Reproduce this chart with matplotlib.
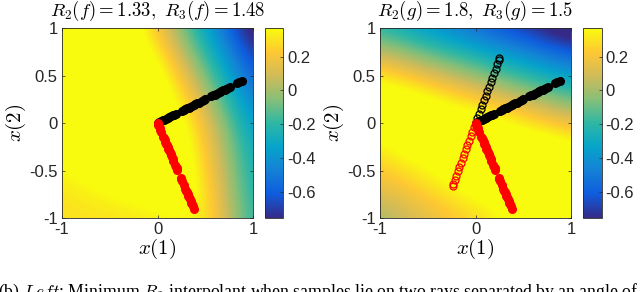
import numpy as np
import matplotlib
matplotlib.use("Agg")
import matplotlib.pyplot as plt
from matplotlib.colors import LinearSegmentedColormap

plt.rcParams['font.family'] = ['Liberation Sans', 'DejaVu Sans']
plt.rcParams['mathtext.fontset'] = 'cm'
plt.rcParams['axes.unicode_minus'] = False

# grid where the two fields were read (x across, y from top to bottom)
grid_x = [-1, -0.75, -0.5, -0.25, 0, 0.25, 0.5, 0.75, 1]
grid_y = [1, 0.75, 0.5, 0.25, 0, -0.25, -0.5, -0.75, -1]

# left panel, minimum R2 interpolant f
f_vals = [
    [0.50, 0.50, 0.50, 0.46, 0.20, -0.06, -0.33, -0.59, -0.85],
    [0.50, 0.50, 0.50, 0.50, 0.33, 0.06, -0.20, -0.46, -0.72],
    [0.50, 0.50, 0.50, 0.50, 0.45, 0.19, -0.07, -0.34, -0.60],
    [0.50, 0.50, 0.50, 0.50, 0.50, 0.32, 0.05, -0.21, -0.47],
    [0.50, 0.50, 0.50, 0.50, 0.50, 0.42, 0.16, -0.10, -0.37],
    [0.50, 0.50, 0.50, 0.50, 0.50, 0.48, 0.22, -0.04, -0.30],
    [0.35, 0.40, 0.50, 0.50, 0.50, 0.50, 0.26, 0.00, -0.26],
    [0.31, 0.33, 0.36, 0.40, 0.45, 0.50, 0.30, 0.03, -0.23],
    [0.29, 0.30, 0.30, 0.31, 0.33, 0.34, 0.33, 0.06, -0.20],
]

# right panel, interpolant g
g_vals = [
    [-0.22, -0.30, -0.39, -0.47, -0.56, -0.64, -0.72, -0.81, -0.89],
    [0.04, -0.04, -0.13, -0.21, -0.29, -0.38, -0.46, -0.55, -0.63],
    [0.31, 0.22, 0.14, 0.05, -0.03, -0.12, -0.20, -0.28, -0.37],
    [0.50, 0.48, 0.40, 0.32, 0.23, 0.15, 0.06, -0.02, -0.10],
    [0.45, 0.50, 0.50, 0.50, 0.49, 0.41, 0.33, 0.24, 0.16],
    [0.34, 0.41, 0.48, 0.50, 0.50, 0.50, 0.50, 0.50, 0.42],
    [0.23, 0.29, 0.36, 0.43, 0.50, 0.50, 0.50, 0.50, 0.50],
    [0.12, 0.18, 0.25, 0.32, 0.39, 0.45, 0.50, 0.50, 0.50],
    [0.00, 0.07, 0.14, 0.21, 0.27, 0.34, 0.41, 0.47, 0.50],
]
clim = (-0.757, 0.37)

# sample rays: end points and positions along them (fraction of length)
black_end = (0.88, 0.44)
black_t = [0.0, 0.02, 0.04, 0.06, 0.08, 0.10, 0.12, 0.14, 0.16, 0.18, 0.20, 0.22,
           0.29, 0.31, 0.33, 0.35, 0.37, 0.39, 0.41, 0.43, 0.45, 0.47, 0.49,
           0.53, 0.55, 0.57, 0.64, 0.66, 0.68, 0.70, 0.72, 0.74, 0.76, 0.78,
           0.80, 0.82, 0.84, 0.86, 0.95, 0.97, 1.0]
red_end = (0.38, -0.90)
red_t = [0.0, 0.02, 0.04, 0.06, 0.08, 0.10, 0.16, 0.18, 0.20, 0.22, 0.24, 0.26,
         0.28, 0.30, 0.32, 0.34, 0.36, 0.38, 0.40, 0.42, 0.44, 0.49, 0.51, 0.53,
         0.55, 0.64, 0.66, 0.68, 0.72, 0.77, 0.79, 0.81, 0.83, 0.85, 0.87, 0.89,
         0.91, 0.93, 0.95, 0.97, 1.0]
open_up_end = (0.25, 0.68)
open_up_t = [0.0, 0.07, 0.14, 0.21, 0.28, 0.35, 0.42, 0.49, 0.56, 0.63,
             0.70, 0.77, 0.84, 0.91, 0.97, 1.0]
open_dn_end = (-0.24, -0.66)
open_dn_t = [0.0, 0.07, 0.14, 0.21, 0.28, 0.35, 0.42, 0.49, 0.56, 0.63,
             0.70, 0.77, 0.84, 0.91, 0.97, 1.0]

titles = [r'$R_2(f) = 1.33,\ R_3(f) = 1.48$', r'$R_2(g) = 1.8,\ R_3(g) = 1.5$']
cbar_ticks = [-0.6, -0.4, -0.2, 0, 0.2]
cbar_labels = ['-0.6', '-0.4', '-0.2', '0', '0.2']

parula = LinearSegmentedColormap.from_list('parula', [
    '#352A87', '#0F5CDD', '#1481D6', '#06A4CA', '#2EB7A4',
    '#87BF77', '#D1BB59', '#FEC832', '#F9FB0E'])


def ray(end, t):
    t = np.asarray(t)
    return end[0] * t, end[1] * t


fig = plt.figure(figsize=(6.4, 2.92), dpi=100)
ax_pos = [[0.0969, 0.2534, 0.2984, 0.6507], [0.5938, 0.2534, 0.2984, 0.6507]]
cb_pos = [[0.4141, 0.2534, 0.0281, 0.6507], [0.9109, 0.2534, 0.0290, 0.6507]]
dx = (grid_x[1] - grid_x[0]) / 2
ext = [grid_x[0] - dx, grid_x[-1] + dx, grid_y[-1] - dx, grid_y[0] + dx]
edge = '#262626'

for k, vals in enumerate([f_vals, g_vals]):
    ax = fig.add_axes(ax_pos[k])
    im = ax.imshow(np.array(vals), extent=ext, origin='upper', cmap=parula,
                   vmin=clim[0], vmax=clim[1], interpolation='bicubic',
                   aspect='auto')
    if k == 1:
        ax.plot(*ray(open_up_end, open_up_t), 'o', mfc='none', mec='k',
                ms=5, mew=0.9)
        ax.plot(*ray(open_dn_end, open_dn_t), 'o', mfc='none', mec='r',
                ms=5, mew=0.9)
    ax.plot(*ray(black_end, black_t), 'o', color='k', ms=5.5)
    ax.plot(*ray(red_end, red_t), 'o', color='r', ms=5.5)
    ax.set_xlim(-1, 1)
    ax.set_ylim(-1, 1)
    ax.set_xticks([-1, 0, 1])
    ax.set_xticklabels(['-1', '0', '1'])
    ax.set_yticks([-1, -0.5, 0, 0.5, 1])
    ax.set_yticklabels(['-1', '-0.5', '0', '0.5', '1'])
    ax.tick_params(direction='in', top=True, right=True, length=2.5,
                   width=0.5, labelsize=12, colors=edge, pad=3)
    for s in ax.spines.values():
        s.set_linewidth(0.6)
        s.set_color(edge)
    ax.set_title(titles[k], fontsize=13.5, pad=8.5)
    ax.set_xlabel(r'$x(1)$', fontsize=15, labelpad=0)
    ax.set_ylabel(r'$x(2)$', fontsize=15, labelpad=1)

    cax = fig.add_axes(cb_pos[k])
    cb = fig.colorbar(im, cax=cax, ticks=cbar_ticks)
    cb.set_ticklabels(cbar_labels)
    cb.outline.set_linewidth(0.6)
    cb.outline.set_edgecolor(edge)
    cax.tick_params(direction='in', length=2.5, width=0.5, labelsize=12,
                    colors=edge, pad=3)

fig.text(-0.003, 0.034,
         r'(b) $\mathit{Left}$: Minimum $R_2$ interpolant when samples lie on two rays separated by an angle of',
         fontsize=12.8, family='Liberation Serif', va='top', ha='left')

fig.savefig('out.png', dpi=100)
